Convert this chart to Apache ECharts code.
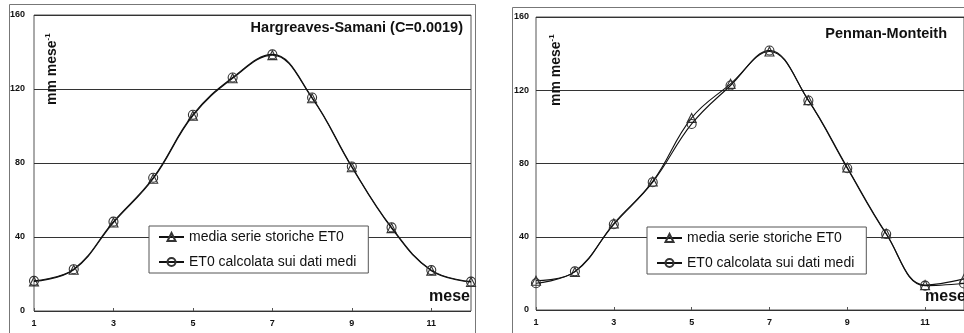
<!DOCTYPE html>
<html>
<head>
<meta charset="utf-8">
<script src="https://cdn.jsdelivr.net/npm/echarts@6/dist/echarts.min.js"></script>
<style>
html,body{margin:0;padding:0;background:#fff;}
#c{width:964px;height:333px;}
</style>
</head>
<body>
<div id="c"></div>
<script>
const months = ['1','2','3','4','5','6','7','8','9','10','11','12'];
const yTicks = [0, 40, 80, 120, 160];
const seriesNames = ['media serie storiche ET0', 'ET0 calcolata sui dati medi'];
const panelTitles = ['Hargreaves-Samani (C=0.0019)', 'Penman-Monteith'];
// Hargreaves-Samani panel
const hsMedia = [16.0, 22.3, 47.8, 71.5, 105.6, 125.8, 138.3, 115.0, 77.7, 44.8, 21.8, 15.7];
const hsCalc  = [16.3, 22.6, 48.3, 72.0, 106.1, 126.2, 138.7, 115.4, 78.1, 45.2, 22.1, 15.9];
// Penman-Monteith panel
const pmMedia = [16.0, 20.8, 47.2, 70.2, 104.9, 123.5, 141.2, 114.6, 77.8, 41.8, 13.6, 17.0];
const pmCalc  = [14.6, 21.1, 46.8, 69.8, 101.6, 122.6, 141.7, 114.4, 77.4, 41.5, 13.3, 14.5];

const chart = echarts.init(document.getElementById('c'), null, {renderer: 'canvas'});
const FONT = 'Liberation Sans, Arial, sans-serif';

function mkX(i) {
  return {
    type: 'category', gridIndex: i, data: months, boundaryGap: false,
    axisLine: {show: false},
    axisTick: {show: true, inside: true, length: 3, interval: 1, lineStyle: {color: '#555'}},
    axisLabel: {interval: 1, color: '#111', fontSize: 9, fontWeight: 'bold', fontFamily: FONT, margin: 8},
    splitLine: {show: false}
  };
}
function mkY(i, margin) {
  return {
    type: 'value', gridIndex: i, min: yTicks[0], max: yTicks[yTicks.length - 1], interval: 40,
    axisLine: {show: false}, axisTick: {show: false},
    axisLabel: {color: '#111', fontSize: 9, fontWeight: 'bold', fontFamily: FONT, margin: margin,
      verticalAlign: 'middle', padding: [0, 0, 5, 0]},
    splitLine: {show: true, lineStyle: {color: '#333', width: 1}}
  };
}
function mkSeries(name, data, i, symbol) {
  return {
    name: name, type: 'line', xAxisIndex: i, yAxisIndex: i, data: data,
    smooth: 0.4, symbol: symbol, symbolSize: 9, showSymbol: true,
    lineStyle: {color: '#111', width: 1.1},
    itemStyle: {color: 'rgba(255,255,255,0)', borderColor: '#333', borderWidth: 1.1},
    emphasis: {disabled: true}, animation: false, z: symbol === 'circle' ? 3 : 2
  };
}
function mkLegend(left, top) {
  return {
    left: left, top: top, orient: 'vertical', itemWidth: 25, itemHeight: 10, itemGap: 11,
    padding: [4, 12, 4, 9],
    backgroundColor: '#fff', borderColor: '#555', borderWidth: 1,
    textStyle: {color: '#111', fontSize: 14, fontFamily: FONT},
    data: seriesNames, selectedMode: false
  };
}
function txt(x, y, text, opts) {
  return Object.assign({
    type: 'text', x: x, y: y, z: 100,
    style: Object.assign({text: text, fill: '#111', font: 'bold 15px ' + FONT}, opts || {})
  });
}

const option = {
  backgroundColor: '#fff',
  animation: false,
  grid: [
    {left: 34, top: 15, width: 437, height: 296, show: true, borderColor: '#555', borderWidth: 1},
    {left: 536, top: 17, width: 430, height: 293, show: true, borderColor: '#555', borderWidth: 1}
  ],
  xAxis: [mkX(0), mkX(1)],
  yAxis: [mkY(0, 9), mkY(1, 7)],
  legend: [mkLegend(149, 226), mkLegend(647, 227)],
  series: [
    mkSeries(seriesNames[0], hsMedia, 0, 'triangle'),
    mkSeries(seriesNames[1], hsCalc, 0, 'circle'),
    mkSeries(seriesNames[0], pmMedia, 1, 'triangle'),
    mkSeries(seriesNames[1], pmCalc, 1, 'circle')
  ],
  graphic: [
    {type: 'rect', shape: {x: 9.5, y: 4.5, width: 466, height: 340}, style: {fill: 'none', stroke: '#777', lineWidth: 1}, z: 0},
    {type: 'rect', shape: {x: 512.5, y: 7.5, width: 470, height: 340}, style: {fill: 'none', stroke: '#777', lineWidth: 1}, z: 0},
    txt(463, 20, panelTitles[0], {textAlign: 'right', font: 'bold 14.5px ' + FONT}),
    txt(947, 26, panelTitles[1], {textAlign: 'right', font: 'bold 14.5px ' + FONT}),
    txt(470, 289, 'mese', {textAlign: 'right', font: 'bold 16px ' + FONT}),
    txt(925, 289, 'mese', {textAlign: 'left', font: 'bold 16px ' + FONT}),
    {type: 'text', x: 44, y: 105, rotation: Math.PI / 2, z: 100,
     style: {text: '{a|mm mese}{b|-1}', fill: '#111',
       rich: {a: {font: 'bold 14px ' + FONT, fill: '#111', lineHeight: 15, verticalAlign: 'bottom'},
              b: {font: 'bold 8px ' + FONT, fill: '#111', lineHeight: 15, verticalAlign: 'top'}}}},
    {type: 'text', x: 548, y: 106, rotation: Math.PI / 2, z: 100,
     style: {text: '{a|mm mese}{b|-1}', fill: '#111',
       rich: {a: {font: 'bold 14px ' + FONT, fill: '#111', lineHeight: 15, verticalAlign: 'bottom'},
              b: {font: 'bold 8px ' + FONT, fill: '#111', lineHeight: 15, verticalAlign: 'top'}}}}
  ]
};
chart.setOption(option);
</script>
</body>
</html>
